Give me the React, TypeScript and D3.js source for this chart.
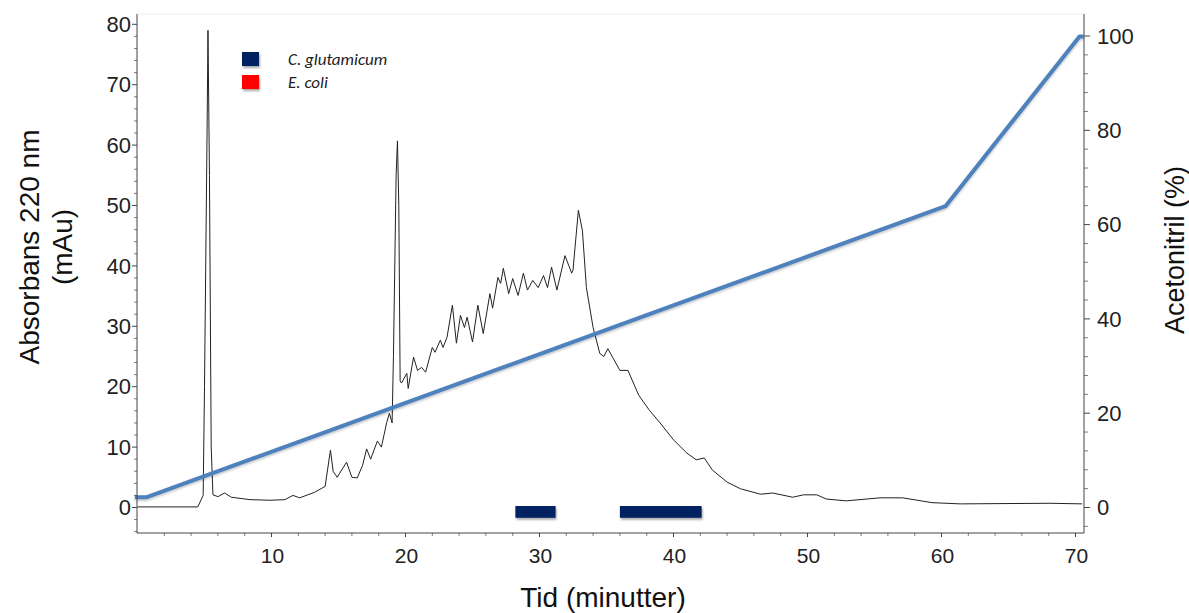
import React from 'react';
import * as d3 from 'd3';

// Chromatogram (absorbance 220 nm, mAu) vs time (min)
const traceTime = [0, 4.5, 4.9, 5.0, 5.2, 5.26, 5.37, 5.5, 5.63, 6.0, 6.5, 7.0, 8.4, 9.9, 11.0, 11.6, 12.1, 13.2, 14.0, 14.4, 14.6, 14.9, 15.6, 16.0, 16.4, 16.8, 17.1, 17.4, 17.9, 18.2, 18.6, 18.8, 19.0, 19.1, 19.3, 19.4, 19.5, 19.6, 19.7, 20.1, 20.2, 20.6, 20.9, 21.2, 21.5, 22.0, 22.2, 22.6, 22.8, 23.1, 23.5, 23.8, 24.1, 24.4, 24.6, 25.0, 25.4, 25.8, 26.3, 26.5, 26.9, 27.1, 27.3, 27.7, 28.0, 28.4, 28.8, 29.1, 29.5, 29.9, 30.3, 30.6, 30.9, 31.3, 31.9, 32.4, 32.5, 32.9, 33.2, 33.5, 34.0, 34.5, 34.8, 35.1, 35.5, 36.0, 36.6, 37.4, 38.2, 39.0, 40.0, 41.0, 41.7, 42.3, 42.9, 44.0, 45.0, 46.5, 47.4, 48.9, 49.7, 50.7, 51.4, 52.9, 55.4, 57.1, 59.3, 61.4, 68.1, 70.5];
const traceAbs = [0.1, 0.1, 2, 20, 64, 79, 55, 10, 2.1, 1.8, 2.4, 1.7, 1.3, 1.2, 1.3, 2.0, 1.6, 2.5, 3.5, 9.5, 6, 5, 7.5, 5, 4.9, 7, 9.7, 8, 11, 10, 14.1, 15.6, 14, 25, 55, 60.7, 50, 21, 20.6, 22.2, 19.7, 24.9, 22.7, 23.2, 22.4, 26.5, 25.7, 27.7, 26.5, 28.2, 33.5, 27.2, 31.8, 29.8, 31.5, 27.4, 33.5, 28.8, 35.4, 33, 38.1, 37.1, 39.6, 35.4, 37.9, 35.1, 38.8, 36, 37.6, 36.4, 38.4, 36.4, 39.8, 36, 41.7, 38.8, 39.3, 49.2, 45.9, 36.4, 29.8, 25.5, 25, 26.3, 24.7, 22.7, 22.7, 18.6, 16.1, 14, 11.2, 9, 7.9, 8.2, 6.2, 4.2, 3.1, 2.2, 2.4, 1.7, 2.1, 2.1, 1.4, 1.1, 1.6, 1.6, 0.8, 0.6, 0.7, 0.6];

// Acetonitrile gradient (%) vs time (min)
const gradTime = [-0.2, 0.7, 60.3, 70.3, 70.6];
const gradPct = [2.2, 2.2, 63.9, 99.9, 99.9];

// Collected fractions (C. glutamicum)
const fractionStart = [28.2, 36.0];
const fractionEnd = [31.2, 42.1];

const legendLabels = ['C. glutamicum', 'E. coli'];
const legendColors = ['#002060', '#FF0000'];

const xTicks = [10, 20, 30, 40, 50, 60, 70];
const yLeftTicks = [0, 10, 20, 30, 40, 50, 60, 70, 80];
const yRightTicks = [0, 20, 40, 60, 80, 100];

const FONT = '"Liberation Sans", Arial, sans-serif';

export default function App() {
  const W = 1189, H = 613;
  const x = d3.scaleLinear().domain([0, 70]).range([137.5, 137.5 + 70 * 13.4]);
  const yL = d3.scaleLinear().domain([0, 80]).range([507.5, 507.5 - 80 * 6.04]);
  const yR = d3.scaleLinear().domain([0, 100]).range([507.5, 36]);
  const left = 137, right = 1084, top = 14, bottom = 533;

  const tracePts: [number, number][] = traceTime.map((t, i) => [t, traceAbs[i]]);
  const gradPts: [number, number][] = gradTime.map((t, i) => [t, gradPct[i]]);
  const traceLine = d3.line<[number, number]>().x(d => x(d[0])).y(d => yL(d[1]))(tracePts) || '';
  const gradLine = d3.line<[number, number]>().x(d => x(d[0])).y(d => yR(d[1]))(gradPts) || '';

  const xMinor = d3.range(2, 71, 2).filter(v => v % 10 !== 0);
  const yLMinor = d3.range(-4, 81, 2).filter(v => v % 10 !== 0);
  const yRMinor = d3.range(-4, 104, 4).filter(v => v % 20 !== 0);

  const axisColor = '#444';

  return (
    <svg width={W} height={H} style={{ position: 'absolute', left: 0, top: 0, background: '#fff' }}>
      <defs>
        <filter id="shadow" x="-20%" y="-50%" width="140%" height="200%">
          <feDropShadow dx="1" dy="2" stdDeviation="1.2" floodColor="#000" floodOpacity="0.35" />
        </filter>
        <filter id="lshadow" x="-5%" y="-5%" width="110%" height="110%">
          <feDropShadow dx="0" dy="1.5" stdDeviation="1" floodColor="#000" floodOpacity="0.25" />
        </filter>
      </defs>
      <rect x={0} y={0} width={W} height={H} fill="#fff" />
      {/* faint frame top */}
      <line x1={left} x2={right} y1={top} y2={top} stroke="#eee" strokeWidth={1} />

      {/* trace */}
      <path d={traceLine} fill="none" stroke="#222" strokeWidth={1} strokeLinejoin="round" />

      {/* gradient */}
      <path d={gradLine} fill="none" stroke="#4F81BD" strokeWidth={4} strokeLinejoin="round" filter="url(#lshadow)" />

      {/* fractions */}
      {fractionStart.map((s, i) => (
        <rect key={i} x={x(s)} y={yL(0.25)} width={x(fractionEnd[i]) - x(s)} height={yL(-1.7) - yL(0.25)}
          fill="#002060" filter="url(#shadow)" />
      ))}

      {/* axes lines */}
      <line x1={left} x2={left} y1={top} y2={bottom} stroke={axisColor} strokeWidth={1} />
      <line x1={left} x2={right} y1={bottom} y2={bottom} stroke={axisColor} strokeWidth={1} />
      <line x1={right} x2={right} y1={top} y2={bottom} stroke={axisColor} strokeWidth={1} />

      {/* left ticks */}
      {yLeftTicks.map(v => (
        <g key={'l' + v}>
          <line x1={left - 5} x2={left} y1={yL(v)} y2={yL(v)} stroke={axisColor} />
          <text x={131} y={yL(v)} dy="0.35em" textAnchor="end" fontFamily={FONT} fontSize={22} fill="#222">{v}</text>
        </g>
      ))}
      {yLMinor.map(v => (
        <line key={'lm' + v} x1={left - 3} x2={left} y1={yL(v)} y2={yL(v)} stroke={axisColor} strokeWidth={0.7} />
      ))}

      {/* right ticks */}
      {yRightTicks.map(v => (
        <g key={'r' + v}>
          <line x1={right} x2={right + 6} y1={yR(v)} y2={yR(v)} stroke={axisColor} />
          <text x={1097} y={yR(v)} dy="0.35em" textAnchor="start" fontFamily={FONT} fontSize={22} fill="#222">{v}</text>
        </g>
      ))}
      {yRMinor.map(v => (
        <line key={'rm' + v} x1={right} x2={right + 4} y1={yR(v)} y2={yR(v)} stroke={axisColor} strokeWidth={0.7} />
      ))}

      {/* x ticks */}
      {xTicks.map(v => (
        <g key={'x' + v}>
          <line x1={x(v)} x2={x(v)} y1={bottom} y2={bottom + 4} stroke={axisColor} />
          <text x={x(v) + 1} y={563} textAnchor="middle" fontFamily={FONT} fontSize={21} fill="#222">{v}</text>
        </g>
      ))}
      {xMinor.map(v => (
        <line key={'xm' + v} x1={x(v)} x2={x(v)} y1={bottom} y2={bottom + 3} stroke={axisColor} strokeWidth={0.7} />
      ))}

      {/* axis titles */}
      <text transform="translate(39,247) rotate(-90)" textAnchor="middle" fontFamily={FONT} fontSize={28} fill="#111">Absorbans 220 nm</text>
      <text transform="translate(72,247) rotate(-90)" textAnchor="middle" fontFamily={FONT} fontSize={28} fill="#111">(mAu)</text>
      <text transform="translate(1184,250) rotate(-90)" textAnchor="middle" fontFamily={FONT} fontSize={27} fill="#111">Acetonitril (%)</text>
      <text x={603} y={607} textAnchor="middle" fontFamily={FONT} fontSize={28} fill="#111">Tid (minutter)</text>

      {/* legend */}
      {legendLabels.map((lab, i) => (
        <g key={lab}>
          <rect x={242} y={52 + i * 23} width={17} height={14} fill={legendColors[i]} filter="url(#shadow)" />
          <text x={288} y={65 + i * 23} fontFamily='Carlito, Lato, "Open Sans", sans-serif' fontStyle="italic" fontSize={17} fill="#222">{lab}</text>
        </g>
      ))}
    </svg>
  );
}
